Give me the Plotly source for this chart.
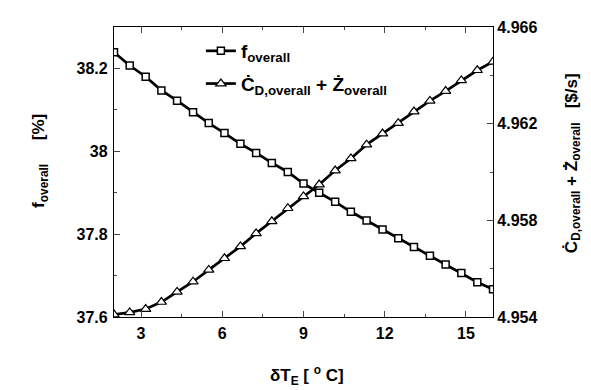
import plotly.graph_objects as go

# temperature difference dT_E [°C]
dT = [2.0, 2.58, 3.17, 3.75, 4.33, 4.92, 5.5, 6.08, 6.67, 7.25, 7.83, 8.42, 9.0,
      9.58, 10.17, 10.75, 11.33, 11.92, 12.5, 13.08, 13.67, 14.25, 14.83, 15.42, 16.0]

# overall f [%] (left axis)
f_overall = [38.239, 38.207, 38.180, 38.147, 38.122, 38.094, 38.068, 38.044, 38.018,
             37.996, 37.972, 37.950, 37.922, 37.900, 37.878, 37.854, 37.833, 37.811,
             37.790, 37.769, 37.748, 37.727, 37.706, 37.684, 37.667]

# overall cost rate [$/s] (right axis)
cost_overall = [4.95410, 4.95419, 4.95433, 4.95462, 4.95504, 4.95546, 4.95595, 4.95643,
                4.95692, 4.95746, 4.95796, 4.95850, 4.95899, 4.95948, 4.96006, 4.96056,
                4.96113, 4.96159, 4.96202, 4.96250, 4.96294, 4.96335, 4.96379, 4.96421,
                4.96456]

FONT = "Liberation Sans, Arial, sans-serif"

# plot area in pixels
W, H = 591, 390
L, R, T, B = 106, 105.5, 19, 80.5
pw, ph = W - L - R, H - T - B

def px_x(px):
    return (px - L) / pw

def px_y(py):
    return 1 - (py - T) / ph

fig = go.Figure()

fig.add_trace(go.Scatter(
    x=dT, y=f_overall, mode='lines+markers',
    name='<b>f<sub>overall</sub></b>', legendgroup='a',
    line=dict(color='black', width=2.7),
    marker=dict(symbol='square', size=7, color='white', line=dict(color='black', width=1.5)),
))

fig.add_trace(go.Scatter(
    x=dT, y=cost_overall, mode='lines+markers', yaxis='y2',
    name='<b>Ċ<sub>D,overall</sub> + Ż<sub>overall</sub></b>', legendgroup='b',
    line=dict(color='black', width=2.7),
    marker=dict(symbol='triangle-up', size=9, color='white', line=dict(color='black', width=1.2)),
))

tickfont = dict(family=FONT, size=16, color='black', weight='bold')

fig.update_layout(
    width=W, height=H,
    margin=dict(l=L, r=R, t=T, b=B),
    plot_bgcolor='white', paper_bgcolor='white',
    font=dict(family=FONT, color='black'),
    xaxis=dict(
        range=[2, 16], tick0=0, dtick=3, ticks='inside', ticklen=6, tickwidth=1.3,
        minor=dict(ticks='inside', ticklen=3, dtick=1.5, tick0=0, tickwidth=1.3),
        showline=True, linecolor='black', linewidth=1.3, mirror='ticks',
        showgrid=False, zeroline=False, tickfont=tickfont, ticklabelstandoff=2,
    ),
    yaxis=dict(
        range=[37.6, 38.3], tick0=37.6, dtick=0.2, ticks='inside', ticklen=6, tickwidth=1.3,
        minor=dict(ticks='inside', ticklen=3, dtick=0.1, tick0=37.6, tickwidth=1.3),
        showline=True, linecolor='black', linewidth=1.3,
        showgrid=False, zeroline=False, tickfont=tickfont, ticklabelstandoff=2,
    ),
    yaxis2=dict(
        range=[4.954, 4.966], tick0=4.954, dtick=0.004, overlaying='y', side='right',
        ticks='inside', ticklen=6, tickwidth=1.3,
        minor=dict(ticks='inside', ticklen=3, dtick=0.002, tick0=4.954, tickwidth=1.3),
        showline=True, linecolor='black', linewidth=1.3,
        showgrid=False, zeroline=False, tickfont=tickfont, ticklabelstandoff=0,
    ),
    legend=dict(
        x=px_x(193), y=px_y(24), xanchor='left', yanchor='top',
        bgcolor='rgba(0,0,0,0)', font=dict(family=FONT, size=19, color='black'),
        itemwidth=30, tracegroupgap=5,
    ),
    showlegend=True,
)

fig.add_annotation(
    x=px_x(19), y=px_y(153), xref='paper', yref='paper', showarrow=False,
    text='<b>f<sub>overall</sub>&nbsp;&nbsp;&nbsp;&nbsp;&nbsp;[%]</b>', textangle=-90,
    font=dict(family=FONT, size=17, color='black'),
)
fig.add_annotation(
    x=px_x(578), y=px_y(155), xref='paper', yref='paper', showarrow=False,
    text='<b>Ċ<sub>D,overall</sub> + Ż<sub>overall</sub>&nbsp;&nbsp;&nbsp;[$/s]</b>', textangle=-90,
    font=dict(family=FONT, size=17, color='black'),
)
fig.add_annotation(
    x=px_x(299), y=px_y(383), xref='paper', yref='paper', showarrow=False,
    text='<b>δT<sub>E</sub> [ <sup>o</sup> C]</b>',
    font=dict(family=FONT, size=17, color='black'),
)

fig.write_html("out.html")
